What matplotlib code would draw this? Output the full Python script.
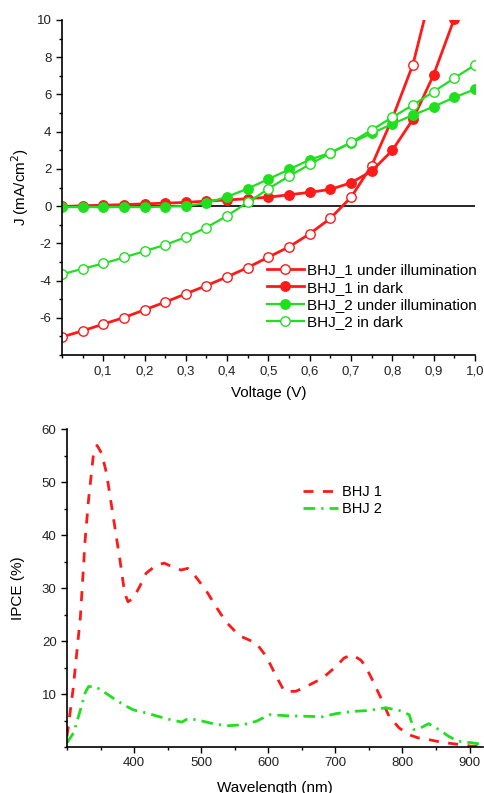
import matplotlib
matplotlib.use("Agg")
import matplotlib.pyplot as plt
from matplotlib.ticker import MultipleLocator, FuncFormatter, FixedLocator

plt.rcParams["font.family"] = ["Liberation Sans", "DejaVu Sans"]
plt.rcParams["axes.unicode_minus"] = False

RED = "#ff1a1a"
GREEN = "#1fe01f"

# --- J-V data (V in volts, J in mA/cm2) ---
voltage = [0.0, 0.05, 0.1, 0.15, 0.2, 0.25, 0.3, 0.35, 0.4, 0.45, 0.5,
           0.55, 0.6, 0.65, 0.7, 0.75, 0.8, 0.85, 0.9, 0.95, 1.0]
bhj1_light = [-7.03, -6.70, -6.34, -5.99, -5.57, -5.16, -4.71, -4.27, -3.80, -3.30, -2.74,
              -2.19, -1.49, -0.66, 0.47, 2.17, 4.70, 7.60, 12.0, 17.0, 23.0]
bhj1_dark = [-0.02, 0.02, 0.05, 0.08, 0.12, 0.16, 0.20, 0.27, 0.33, 0.40, 0.48,
             0.61, 0.74, 0.90, 1.25, 1.88, 2.99, 4.66, 7.04, 10.05, 14.0]
bhj2_light = [-0.05, -0.05, -0.05, -0.05, -0.05, -0.03, 0.0, 0.17, 0.50, 0.94, 1.45,
              1.97, 2.49, 2.87, 3.40, 3.91, 4.41, 4.89, 5.34, 5.84, 6.27]
bhj2_dark = [-3.66, -3.37, -3.08, -2.76, -2.42, -2.08, -1.67, -1.15, -0.52, 0.20, 0.93,
             1.61, 2.24, 2.85, 3.42, 4.09, 4.77, 5.43, 6.15, 6.87, 7.58]

# --- IPCE data ---
wl_1 = [300, 309, 320, 327, 332, 340, 345, 352, 359, 369, 379, 386, 391, 399, 408, 418,
        433, 445, 457, 470, 480, 492, 507, 522, 537, 557, 582, 597, 612, 624, 641, 661,
        681, 701, 713, 725, 738, 745, 755, 768, 780, 795, 810, 824, 839, 858, 883, 903, 918]
ipce_1 = [2.0, 10.8, 24.6, 39.0, 46.5, 55.9, 56.9, 55.3, 51.6, 43.4, 35.2, 29.0, 27.4, 28.1, 30.2, 32.8,
          34.3, 34.7, 34.0, 33.4, 33.7, 32.1, 29.6, 26.5, 23.6, 21.0, 19.6, 17.1, 13.3, 10.5, 10.5, 11.7,
          13.0, 15.2, 16.8, 17.4, 16.4, 15.2, 12.7, 9.2, 5.8, 3.6, 2.3, 1.7, 1.4, 0.9, 0.5, 0.15, 0.1]
wl_2 = [300, 310, 320, 327, 332, 342, 354, 369, 384, 399, 419, 438, 453, 471, 478, 485,
        498, 518, 538, 562, 582, 602, 627, 656, 681, 701, 725, 750, 775, 795, 810, 817,
        827, 839, 854, 869, 883, 903, 918]
ipce_2 = [0.8, 2.7, 7.0, 10.2, 11.4, 11.4, 10.5, 9.2, 8.0, 7.0, 6.4, 5.7, 5.2, 4.7, 5.2, 5.3,
          5.0, 4.4, 4.0, 4.2, 4.85, 6.1, 5.9, 5.8, 5.7, 6.3, 6.7, 6.9, 7.4, 6.9, 6.1, 3.3,
          3.6, 4.4, 3.3, 2.0, 1.1, 0.8, 0.5]

fig = plt.figure(figsize=(4.84, 7.93), dpi=100)

# --- top panel: J-V curves ---
ax1 = fig.add_axes([0.128, 0.5523, 0.853, 0.4225])
ax1.axhline(0, color="black", lw=1.2, zorder=1)
ms = 6.8
ax1.plot(voltage, bhj1_light, "-", color=RED, lw=2.0, marker="o", ms=ms,
         mfc="white", mec=RED, mew=1.0, label="BHJ_1 under illumination")
ax1.plot(voltage, bhj1_dark, "-", color=RED, lw=2.0, marker="o", ms=ms,
         mfc=RED, mec=RED, label="BHJ_1 in dark")
ax1.plot(voltage, bhj2_light, "-", color=GREEN, lw=1.6, marker="o", ms=ms,
         mfc=GREEN, mec=GREEN, label="BHJ_2 under illumination")
ax1.plot(voltage, bhj2_dark, "-", color=GREEN, lw=1.6, marker="o", ms=ms,
         mfc="white", mec=GREEN, mew=1.0, label="BHJ_2 in dark")

ax1.set_xlim(0, 1.0)
ax1.set_ylim(-8, 10)
ax1.xaxis.set_major_locator(FixedLocator([0.1 * i for i in range(1, 11)]))
ax1.xaxis.set_minor_locator(MultipleLocator(0.05))
ax1.xaxis.set_major_formatter(FuncFormatter(lambda v, p: f"{v:.1f}".replace(".", ",")))
ax1.yaxis.set_major_locator(FixedLocator(range(-6, 11, 2)))
ax1.yaxis.set_minor_locator(MultipleLocator(1))
ax1.set_xlabel("Voltage (V)", fontsize=11, labelpad=6)
ax1.set_ylabel("J (mA/cm$^2$)", fontsize=11, labelpad=4)
ax1.legend(loc="lower right", bbox_to_anchor=(1.03, 0.045), frameon=False, fontsize=11,
           handlelength=2.4, labelspacing=0.22, handletextpad=0.2, borderpad=0.2)

# --- bottom panel: IPCE ---
ax2 = fig.add_axes([0.1384, 0.058, 0.8595, 0.401])
ax2.plot(wl_1, ipce_1, color=RED, lw=2.0, dashes=(3.6, 3.4), label="BHJ 1")
ax2.plot(wl_2, ipce_2, color=GREEN, lw=2.0, dashes=(4.2, 2.2, 0.8, 2.2), label="BHJ 2")
ax2.set_xlim(300, 920)
ax2.set_ylim(0, 60)
ax2.xaxis.set_major_locator(FixedLocator(range(400, 901, 100)))
ax2.xaxis.set_minor_locator(MultipleLocator(50))
ax2.yaxis.set_major_locator(FixedLocator(range(10, 61, 10)))
ax2.yaxis.set_minor_locator(MultipleLocator(5))
ax2.set_xlabel("Wavelength (nm)", fontsize=11, labelpad=8)
ax2.set_ylabel("IPCE (%)", fontsize=11, labelpad=12)
ax2.legend(loc="upper left", bbox_to_anchor=(0.535, 0.865), frameon=False, fontsize=10.5,
           handlelength=2.4, labelspacing=0.2, handletextpad=0.3)

for ax in (ax1, ax2):
    ax.spines["top"].set_visible(False)
    ax.spines["right"].set_visible(False)
    ax.spines["left"].set_linewidth(1.2)
    ax.spines["bottom"].set_linewidth(1.2)
    ax.tick_params(which="major", direction="out", length=4, width=1, labelsize=9.5,
                   labelcolor="#222222")
    ax.tick_params(which="minor", direction="out", length=2.5, width=1)

fig.savefig("out.png", dpi=100)
